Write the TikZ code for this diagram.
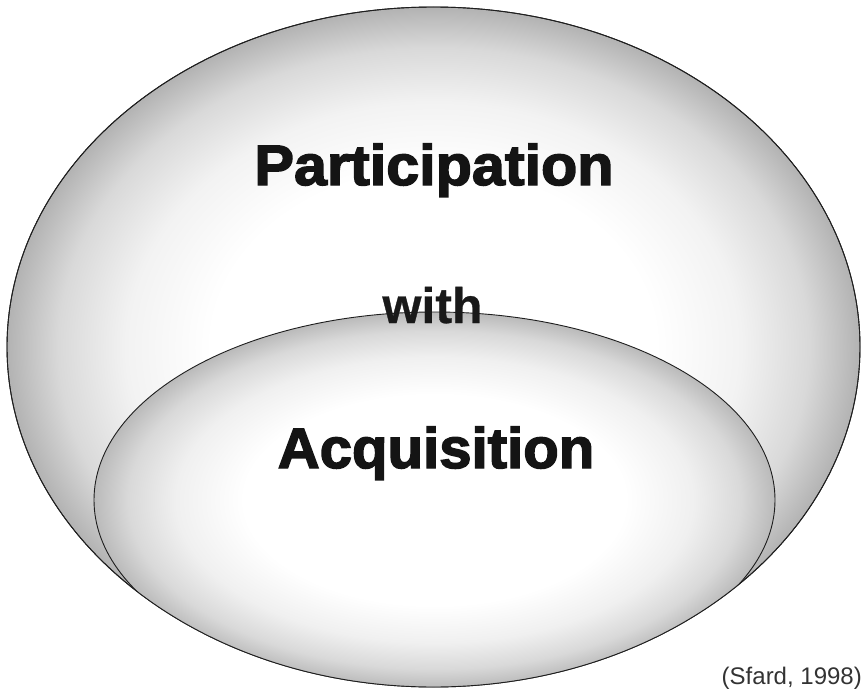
\documentclass[tikz,border=0pt]{standalone}
\usepackage{fontspec}
\setmainfont{Liberation Sans}
\newfontfamily\heavyfont{Liberation Sans}[BoldFeatures={FakeBold=2.5}]
\newfontfamily\midfont{Liberation Sans}[BoldFeatures={FakeBold=0.6}]
\pgfdeclareradialshading{softball}{\pgfpoint{0bp}{0bp}}{color(0bp)=(white); color(13bp)=(white); color(18bp)=(black!5); color(22bp)=(black!15); color(25bp)=(black!30); color(50bp)=(black!30)}
\pgfdeclareradialshading{softballin}{\pgfpoint{0bp}{0bp}}{color(0bp)=(white); color(14bp)=(white); color(19bp)=(black!6); color(22.5bp)=(black!15); color(25bp)=(black!27); color(50bp)=(black!27)}
\tikzset{
  rim/.style={draw=black!88, line width=0.9bp},
  bigword/.style={font=\heavyfont\bfseries\fontsize{57bp}{60bp}\selectfont, text=black!92, inner sep=0, anchor=base},
  midword/.style={font=\midfont\bfseries\fontsize{50bp}{54bp}\selectfont, text=black!90, inner sep=0, anchor=base},
  cite/.style={font=\fontsize{24bp}{26bp}\selectfont, text=black!80, inner sep=0, anchor=base east}
}
\begin{document}
\begin{tikzpicture}[x=1bp, y=-1bp]
\useasboundingbox (0,0) rectangle (863,693);
% outer ellipse
\coordinate (oc) at (433.5,347);
\coordinate (ic) at (434.5,500);
\shade[shading=softball] (oc) ellipse (426.5 and 340);
\draw[rim] (oc) ellipse (426.5 and 340);
\node[bigword] (part) at (434,185) {\scalebox{1.04}[1]{Participation}};
% inner ellipse, clipped by outer
\begin{scope}
  \clip (oc) ellipse (426.5 and 340);
  \shade[shading=softballin] (ic) ellipse (340.5 and 188);
  \draw[rim] (ic) ellipse (340.5 and 188);
\end{scope}
\draw[rim] (oc) ellipse (426.5 and 340);
\node[midword] (with) at (432.5,323) {with};
\node[bigword] (acq) at (436,468) {\scalebox{1.02}[1]{Acquisition}};
\node[cite] (sfard) at (862,684) {(Sfard, 1998)};
\end{tikzpicture}
\end{document}
